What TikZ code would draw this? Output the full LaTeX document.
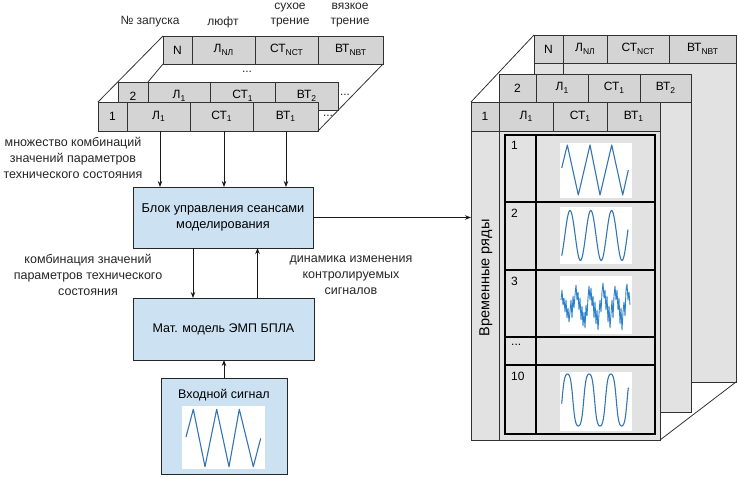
\documentclass[tikz,border=0pt]{standalone}
\usepackage{fontspec}
\setmainfont{Liberation Sans}
\usetikzlibrary{arrows.meta}
\definecolor{cellgray}{RGB}{212,212,212}
\definecolor{pagegray}{RGB}{226,226,226}
\definecolor{boxblue}{RGB}{204,226,243}
\definecolor{wave}{RGB}{52,117,178}
\definecolor{wavelt}{RGB}{45,130,205}
\definecolor{linegray}{RGB}{50,50,50}
\newcommand\lowsub[1]{\raisebox{-0.4ex}{\fontsize{8.5}{9}\selectfont #1}}
\begin{document}
\begin{tikzpicture}[x=1pt,y=-1pt,
  cell/.style={draw=linegray, line width=0.8pt, fill=cellgray, inner sep=0pt, outer sep=0pt, anchor=north west, font=\fontsize{12}{14}\selectfont},
  page/.style={draw=linegray, line width=0.8pt, fill=pagegray, inner sep=0pt, outer sep=0pt, anchor=north west},
  gcell/.style={draw=black, line width=1.6pt, fill=pagegray, inner sep=0pt, outer sep=0pt, anchor=north west},
  bluebox/.style={draw=black!85, line width=0.9pt, fill=boxblue, inner sep=0pt, outer sep=0pt, anchor=north west, align=center, font=\fontsize{12.5}{15.5}\selectfont},
  lab/.style={align=center, inner sep=0pt, font=\fontsize{12.5}{16}\selectfont, text=black!85},
  hdr/.style={align=center, inner sep=0pt, font=\fontsize{12}{15}\selectfont, text=black!85},
  num/.style={anchor=north west, inner sep=0pt, font=\fontsize{12}{14}\selectfont},
  arr/.style={-{Stealth[length=6pt,width=4.5pt]}, line width=0.9pt, draw=black!90},
  plotbg/.style={fill=white, draw=none},
  wv/.style={draw=wave, line width=1.1pt, line join=round}]
\useasboundingbox (0,0) rectangle (738,477);

% ---------- left stack ----------
\node[hdr] (h1) at (150,22) {№ запуска};
\node[hdr] (h2) at (223,22) {люфт};
\node[hdr] (h3) at (290,15.5) {сухое\\трение};
\node[hdr] (h4) at (350,15.5) {вязкое\\трение};

\node[cell, minimum width=29pt, minimum height=28pt] (lt1) at (163,36) {N};
\node[cell, minimum width=63pt, minimum height=28pt] (lt2) at (192,36) {Л\lowsub{NЛ}};
\node[cell, minimum width=63pt, minimum height=28pt] (lt3) at (255,36) {СТ\lowsub{NСТ}};
\node[cell, minimum width=65pt, minimum height=28pt] (lt4) at (318,36) {ВТ\lowsub{NВТ}};
\node[hdr] (ld1) at (247,72) {...};

\node[cell, minimum width=30pt, minimum height=28pt] (lm1) at (118,82) {2};
\node[cell, minimum width=62pt, minimum height=28pt] (lm2) at (148,82) {Л\lowsub{1}};
\node[cell, minimum width=65pt, minimum height=28pt] (lm3) at (210,82) {СТ\lowsub{1}};
\node[cell, minimum width=63pt, minimum height=28pt] (lm4) at (275,82) {ВТ\lowsub{2}};
\node[hdr] (ld2) at (345,95) {...};

\node[cell, minimum width=29pt, minimum height=29pt] (lf1) at (98,102) {1};
\node[cell, minimum width=63pt, minimum height=29pt] (lf2) at (127,102) {Л\lowsub{1}};
\node[cell, minimum width=63pt, minimum height=29pt] (lf3) at (190,102) {СТ\lowsub{1}};
\node[cell, minimum width=65pt, minimum height=29pt] (lf4) at (253,102) {ВТ\lowsub{1}};
\node[hdr] (ld3) at (328,116) {...};

\draw[draw=linegray, line width=0.8pt] (lf1.north west) -- (lt1.north west);
\draw[draw=linegray, line width=0.8pt] (lm2.north west) -- (lt1.south west);
\draw[draw=linegray, line width=0.8pt] (lf4.south east) -- (lt4.south east);

% ---------- left flow ----------
\node[lab] (lab1) at (73,158) {множество комбинаций\\значений параметров\\технического состояния};
\node[bluebox, minimum width=180pt, minimum height=61pt] (blk) at (133,187) {};
\node[align=center, font=\fontsize{12.8}{16}\selectfont] (blkt) at (blk.center) {Блок управления сеансами\\моделирования};
\draw[arr] ([xshift=1.5pt]lf2.south) -- ([xshift=1.5pt]lf2.south |- blk.north);
\draw[arr] ([xshift=2.5pt]lf3.south) -- ([xshift=2.5pt]lf3.south |- blk.north);
\draw[arr] ([xshift=0.5pt]lf4.south) -- ([xshift=0.5pt]lf4.south |- blk.north);

\node[bluebox, minimum width=181pt, minimum height=62pt] (mat) at (133,298) {Мат. модель ЭМП БПЛА};
\node[lab] (lab2) at (88,275) {комбинация значений\\параметров технического\\состояния};
\node[lab] (lab3) at (351,275) {динамика изменения\\контролируемых\\сигналов};
\draw[arr] ([xshift=-30pt]blk.south) -- ([xshift=-30pt]blk.south |- mat.north);
\draw[arr] ([xshift=34pt]mat.north) -- ([xshift=34pt]mat.north |- blk.south);

\node[bluebox, minimum width=126pt, minimum height=96pt] (inp) at (161,378) {};
\node[font=\fontsize{12.5}{15}\selectfont, inner sep=0pt] (inpt) at (224,395) {Входной сигнал};
\draw[arr] (inp.north) -- (inp.north |- mat.south);
\fill[plotbg] (182,406) rectangle (265,469);
\draw[wv] (186,437) -- (193.3,409.3) -- (205,466.7) -- (216.7,409.3) -- (229,466.7) -- (239.3,409.3) -- (253.3,466.7) -- (260.7,438.3);

% ---------- right stack ----------
\node[page, minimum width=202pt, minimum height=320pt] (bp) at (534,62) {};
\node[cell, minimum width=29pt, minimum height=28pt] (rt1) at (534,35) {N};
\node[cell, minimum width=44pt, minimum height=28pt] (rt2) at (563,35) {Л\lowsub{NЛ}};
\node[cell, minimum width=62pt, minimum height=28pt] (rt3) at (607,35) {СТ\lowsub{NСТ}};
\node[cell, minimum width=67pt, minimum height=28pt] (rt4) at (669,35) {ВТ\lowsub{NВТ}};
\draw[draw=linegray, line width=0.8pt] (rt1.south east) -- ++(0,11);

\node[page, minimum width=192pt, minimum height=310pt] (mp) at (499,102) {};
\node[cell, minimum width=37pt, minimum height=28pt] (rm1) at (499,74) {2};
\node[cell, minimum width=52pt, minimum height=28pt] (rm2) at (536,74) {Л\lowsub{1}};
\node[cell, minimum width=52pt, minimum height=28pt] (rm3) at (588,74) {СТ\lowsub{1}};
\node[cell, minimum width=51pt, minimum height=28pt] (rm4) at (640,74) {ВТ\lowsub{2}};

\node[page, minimum width=189pt, minimum height=309pt] (fp) at (471,131) {};
\node[cell, minimum width=28pt, minimum height=29pt] (rf1) at (471,102) {1};
\node[cell, minimum width=54pt, minimum height=29pt] (rf2) at (499,102) {Л\lowsub{1}};
\node[cell, minimum width=54pt, minimum height=29pt] (rf3) at (553,102) {СТ\lowsub{1}};
\node[cell, minimum width=53pt, minimum height=29pt] (rf4) at (607,102) {ВТ\lowsub{1}};

\draw[draw=linegray, line width=0.8pt] (rf1.north west) -- (rt1.north west);
\draw[draw=linegray, line width=0.8pt] (fp.south east) -- (bp.south east);
\draw[draw=linegray, line width=0.8pt] (rf1.south east) -- (rf1.south east |- fp.south);

\node[rotate=90, font=\fontsize{14.5}{16}\selectfont, inner sep=0pt] (vt) at (486,278) {Временные ряды};

% grid
\node[gcell, minimum width=31pt, minimum height=67pt] (g1a) at (505,135) {};
\node[gcell, minimum width=119pt, minimum height=67pt] (g1b) at (536,135) {};
\node[gcell, minimum width=31pt, minimum height=68pt] (g2a) at (505,202) {};
\node[gcell, minimum width=119pt, minimum height=68pt] (g2b) at (536,202) {};
\node[gcell, minimum width=31pt, minimum height=67pt] (g3a) at (505,270) {};
\node[gcell, minimum width=119pt, minimum height=67pt] (g3b) at (536,270) {};
\node[gcell, minimum width=31pt, minimum height=28pt] (g4a) at (505,337) {};
\node[gcell, minimum width=119pt, minimum height=28pt] (g4b) at (536,337) {};
\node[gcell, minimum width=31pt, minimum height=69pt] (g5a) at (505,365) {};
\node[gcell, minimum width=119pt, minimum height=69pt] (g5b) at (536,365) {};
\draw[black, line width=2pt] (g1a.north west) rectangle (g5b.south east);

\node[num] (n1) at (511,141) {1};
\node[num] (n2) at (511,209) {2};
\node[num] (n3) at (511,277) {3};
\node[num] (n4) at (511,344) {...};
\node[num] (n5) at (511,372) {10};

% plots
\fill[plotbg] (560,143) rectangle (632,198);
\draw[wv] (561.7,168) -- (567.3,145) -- (578.3,195) -- (590,145) -- (600,195) -- (611.7,145) -- (622.7,195) -- (628.3,170);

\fill[plotbg] (560,207) rectangle (632,264);
\begin{scope}[shift={(560,235.5)}]
\draw[wv] plot[domain=1.7:68, samples=120, smooth] (\x, {-25*sin((\x-4.8)*17.3077)});
\end{scope}

\fill[plotbg] (560,276) rectangle (632,334);
\draw[draw=wavelt, line width=0.9pt, line join=round] (561,300) -- (562,290) -- (563,305) -- (564,298) -- (565,312) -- (566,300) -- (567,318) -- (568,308) -- (569,322) -- (570,312) -- (571,300) -- (572,318) -- (573,296) -- (574,308) -- (575,295) -- (576,285) -- (577,300) -- (578,292) -- (579,310) -- (580,298) -- (581,320) -- (582,306) -- (583,326) -- (584,312) -- (585,328) -- (586,305) -- (587,316) -- (588,298) -- (589,286) -- (590,300) -- (591,288) -- (592,306) -- (593,296) -- (594,318) -- (595,302) -- (596,324) -- (597,310) -- (598,330) -- (599,314) -- (600,300) -- (601,312) -- (602,292) -- (603,283) -- (604,298) -- (605,290) -- (606,310) -- (607,296) -- (608,322) -- (609,306) -- (610,328) -- (611,314) -- (612,300) -- (613,318) -- (614,296) -- (615,286) -- (616,300) -- (617,290) -- (618,310) -- (619,298) -- (620,324) -- (621,308) -- (622,330) -- (623,312) -- (624,302) -- (625,316) -- (626,290) -- (627,284) -- (628,300) -- (629,292) -- (630,305);

\fill[plotbg] (560,372) rectangle (632,431);
\begin{scope}[shift={(560,400)}]
\draw[wv] plot[domain=1.7:68.3, samples=150, smooth] (\x, {-26*tanh(1.3*sin(-90+(\x-18.3)*16.5899))/tanh(1.3)});
\end{scope}

% connector to time series
\draw[arr] (blk.east) -- (blk.east -| fp.west);
\end{tikzpicture}
\end{document}
